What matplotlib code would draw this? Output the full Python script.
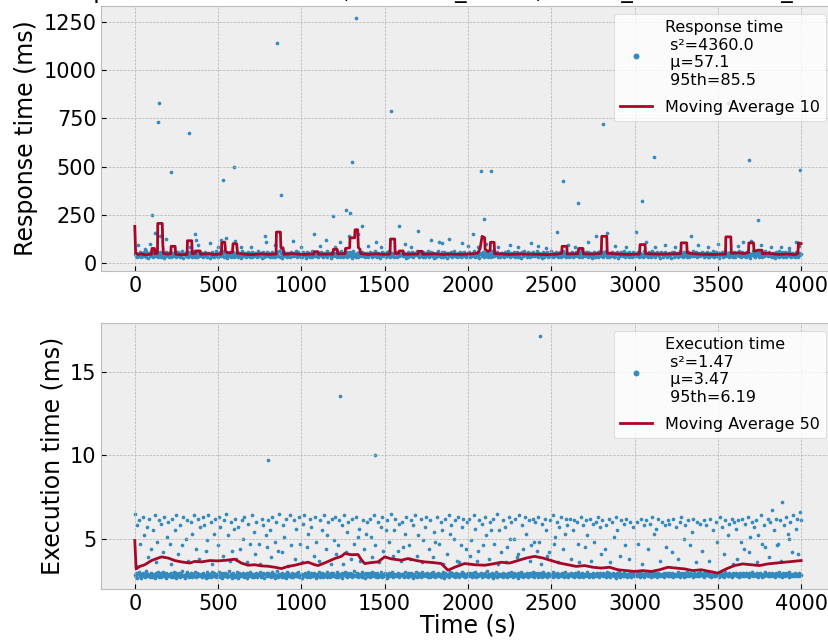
import numpy as np
import matplotlib
matplotlib.use("Agg")
from matplotlib import pyplot as plt

# response time, dense band of normal requests (ms), evenly spread over 0..4000 s
rt_band = [
    44,38,52,31,47,35,58,42,29,49,36,54,40,33,61,45,27,50,39,56,34,46,30,53,41,37,63,48,28,44,55,32,47,38,51,26,43,59,35,49,
    40,33,57,46,30,52,37,44,64,29,48,35,55,42,31,50,38,60,27,45,53,34,41,47,32,58,39,36,51,28,46,62,33,43,56,30,49,37,54,41,
    36,50,29,45,59,38,42,33,53,47,26,40,57,35,48,31,44,62,37,51,28,43,55,34,46,39,60,32,49,41,27,52,36,45,58,30,47,38,54,33,
    48,35,43,56,31,50,39,27,46,61,34,42,53,29,45,37,58,40,32,49,55,28,44,36,52,41,30,47,63,35,39,51,26,45,57,33,48,38,43,54,
    37,52,30,46,41,59,33,48,28,55,39,44,35,62,31,50,42,27,47,56,36,40,53,32,49,45,29,58,38,43,51,34,46,60,30,41,55,37,48,32,
    45,31,54,39,48,27,43,57,36,50,33,46,61,29,41,52,38,35,56,44,30,49,40,58,34,47,28,53,42,37,63,32,45,51,39,26,48,55,35,43,
    50,36,41,28,55,46,33,60,39,44,31,52,37,48,57,30,43,35,54,40,27,49,62,38,45,32,51,41,29,56,47,34,42,59,36,50,31,44,53,38,
    33,47,56,40,29,51,44,37,62,35,48,30,53,42,27,46,58,39,34,50,43,31,55,38,47,60,28,41,52,36,45,33,57,49,30,42,54,37,46,40,
    42,55,34,49,38,27,46,59,32,51,40,36,57,44,30,53,39,48,63,35,41,29,50,45,37,56,33,47,28,52,43,38,61,31,46,54,35,40,49,26,
    47,32,51,43,60,36,40,29,54,45,33,58,38,49,27,44,52,35,41,57,31,48,39,62,34,46,30,53,42,37,55,28,50,44,36,59,41,33,47,52,
    39,54,28,46,35,50,43,61,31,48,37,55,41,26,52,45,34,58,40,29,49,36,56,42,33,51,47,30,63,38,44,35,53,39,57,32,46,41,28,50,
    53,37,45,30,57,41,34,49,62,39,28,52,44,36,47,59,33,42,55,31,46,38,50,27,54,43,35,60,40,48,32,56,37,45,29,51,42,58,34,47,
    35,48,60,42,31,53,38,46,27,55,43,33,50,39,58,30,47,41,36,61,45,29,52,40,34,57,44,31,49,37,54,28,46,42,63,36,50,33,45,39,
    46,30,52,38,56,43,29,48,35,59,41,37,53,32,45,62,28,50,39,44,34,55,47,31,58,42,36,51,27,46,40,57,33,49,38,54,30,43,60,35,
    41,56,33,47,39,61,30,52,44,28,49,36,57,42,31,53,38,46,55,27,43,50,34,59,40,35,48,62,32,45,51,37,29,54,41,47,33,58,44,36,
    49,34,45,57,29,42,53,38,47,31,60,40,35,51,44,28,56,39,48,33,62,41,37,52,30,46,55,43,36,49,27,58,45,32,50,39,54,41,31,46,
    38,51,42,27,55,47,33,59,36,44,52,30,48,41,63,35,45,29,54,38,50,43,32,57,46,28,53,40,37,61,34,49,42,56,31,47,39,52,35,44,
    55,40,31,50,36,46,58,33,43,29,53,48,37,62,30,45,41,57,34,49,27,52,39,44,56,32,47,38,60,35,42,51,28,46,54,37,43,33,59,41,
    32,47,53,39,61,34,44,28,56,42,37,50,46,31,58,40,35,52,27,48,43,63,36,45,30,54,41,49,33,57,38,46,29,51,44,35,60,40,48,36,
    43,58,35,48,30,52,40,45,27,56,38,49,33,61,42,36,54,29,47,39,57,31,44,50,34,62,41,28,53,45,37,48,32,55,43,30,51,46,39,47,
]

# response time, slow requests and outliers (time s, ms)
rt_slow_t = [20, 60, 90, 102, 120, 142, 146, 150, 190, 220, 324, 330, 364, 370, 380, 450, 500, 520, 528, 545,
             594, 600, 640, 700, 780, 790, 840, 852, 878, 880, 950, 1000, 1075, 1110, 1150, 1192, 1200, 1230, 1266, 1285,
             1294, 1306, 1328, 1340, 1363, 1400, 1450, 1480, 1539, 1585, 1620, 1660, 1703, 1779, 1825, 1845, 1887, 1965, 2000, 2033,
             2060, 2079, 2095, 2110, 2141, 2180, 2250, 2300, 2380, 2420, 2470, 2537, 2571, 2600, 2640, 2663, 2720, 2769, 2811, 2833,
             2880, 2950, 3010, 3047, 3070, 3117, 3120, 3180, 3240, 3338, 3380, 3440, 3500, 3560, 3620, 3650, 3687, 3700, 3738, 3760,
             3820, 3880, 3930, 3970, 3990, 3995]
rt_slow_v = [95, 70, 100, 249, 155, 734, 828, 140, 125, 470, 676, 85, 152, 120, 95, 105, 80, 118, 430, 130,
             499, 115, 85, 80, 140, 110, 95, 1142, 352, 72, 115, 85, 152, 90, 120, 245, 80, 110, 275, 140,
             259, 523, 1270, 150, 192, 90, 110, 85, 788, 192, 100, 80, 166, 120, 110, 105, 124, 105, 90, 152,
             85, 475, 230, 100, 475, 80, 95, 85, 105, 90, 75, 162, 425, 95, 85, 309, 110, 140, 721, 155,
             90, 80, 160, 323, 110, 551, 85, 95, 80, 138, 95, 80, 100, 828, 90, 110, 536, 115, 221, 95,
             85, 80, 75, 110, 90, 480]

# moving average (window 10) of response time
rt_ma_t = [0, 5, 20, 40, 60, 100, 103, 118, 121, 136, 138, 165, 168, 172, 190, 216, 218, 242, 245, 280,
           314, 316, 342, 345, 364, 366, 392, 395, 450, 470, 520, 522, 540, 545, 560, 586, 590, 612, 616, 660,
           700, 760, 800, 848, 850, 874, 877, 890, 895, 950, 1000, 1075, 1078, 1100, 1103, 1190, 1192, 1215, 1218, 1262,
           1265, 1290, 1292, 1320, 1322, 1338, 1342, 1352, 1356, 1400, 1450, 1500, 1532, 1535, 1560, 1563, 1585, 1588, 1610, 1613,
           1700, 1703, 1725, 1728, 1800, 1850, 1900, 1960, 2000, 2040, 2060, 2073, 2085, 2100, 2103, 2120, 2133, 2135, 2157, 2160,
           2250, 2300, 2400, 2480, 2540, 2563, 2565, 2593, 2596, 2660, 2665, 2690, 2693, 2760, 2800, 2803, 2833, 2836, 2900, 2960,
           3030, 3033, 3063, 3066, 3150, 3200, 3278, 3280, 3313, 3316, 3350, 3400, 3480, 3546, 3548, 3578, 3581, 3620, 3660, 3684,
           3686, 3714, 3717, 3740, 3765, 3768, 3800, 3860, 3920, 3960, 3980, 3984, 4000]
rt_ma_v = [190, 52, 44, 47, 42, 45, 75, 75, 48, 50, 205, 205, 100, 50, 46, 47, 86, 86, 45, 42,
           44, 115, 115, 48, 50, 62, 62, 45, 48, 44, 46, 105, 108, 60, 52, 55, 100, 98, 50, 45,
           43, 47, 44, 46, 160, 160, 80, 78, 45, 48, 44, 46, 58, 58, 45, 46, 70, 70, 47, 48,
           75, 78, 130, 130, 172, 172, 80, 70, 48, 44, 47, 44, 46, 124, 124, 48, 50, 62, 62, 45,
           46, 60, 60, 45, 47, 44, 46, 44, 46, 48, 52, 75, 138, 130, 70, 60, 65, 107, 107, 48,
           44, 46, 45, 43, 46, 50, 86, 86, 46, 48, 75, 75, 47, 46, 50, 138, 138, 50, 46, 44,
           46, 95, 95, 48, 45, 46, 48, 104, 104, 52, 48, 45, 44, 46, 135, 135, 50, 52, 48, 55,
           104, 104, 60, 66, 66, 48, 50, 44, 46, 43, 48, 104, 100]

# execution time, dense band (hundredths of ms), evenly spread over 0..4000 s
ex_band = [
    281,273,294,268,287,301,276,290,265,284,297,279,271,288,305,275,292,283,269,298,286,274,291,280,267,295,278,289,303,272,285,293,270,282,299,277,288,266,294,284,
    276,291,283,298,270,287,274,302,281,268,293,285,277,296,272,289,280,306,275,286,264,292,279,299,284,271,290,282,297,273,287,278,301,269,293,283,275,290,286,279,
    289,270,296,278,285,263,299,281,274,292,287,269,304,280,276,295,283,271,290,286,278,300,273,288,266,294,282,277,297,285,272,289,280,307,275,291,284,268,296,279,
    272,286,280,301,267,293,278,289,283,275,298,270,287,281,294,265,290,277,303,285,273,292,288,269,282,296,279,274,291,286,300,271,284,278,295,268,289,283,276,297,
    294,279,287,271,299,283,276,290,268,286,281,305,274,292,278,288,270,296,284,273,289,265,301,280,293,277,285,272,298,282,269,291,287,275,294,279,302,270,286,283,
    267,292,284,276,296,280,289,273,301,285,270,294,279,288,275,298,283,266,290,286,278,303,272,287,281,295,269,291,277,284,299,274,289,282,270,296,285,278,293,280,
    285,274,299,282,270,291,286,277,295,268,289,281,302,276,293,272,287,280,297,284,271,290,278,306,283,275,294,288,269,292,279,286,273,300,281,287,265,295,283,277,
    278,296,271,289,284,300,276,293,281,269,288,295,274,286,279,304,272,291,285,277,297,283,268,290,280,294,275,287,282,299,270,289,284,276,292,281,296,273,288,285,
    292,280,287,274,302,279,285,270,297,288,276,293,283,268,290,286,279,299,273,295,282,277,289,271,304,284,275,291,287,280,296,269,288,283,274,293,281,300,277,286,
    270,289,282,297,276,285,291,273,288,280,299,267,294,284,278,290,286,272,301,281,293,276,287,283,270,296,279,292,285,274,289,281,303,277,295,284,271,288,280,298,
    287,276,293,281,269,295,284,278,300,272,289,285,276,292,281,297,270,288,283,275,294,279,305,286,273,290,282,277,296,268,291,285,279,299,274,287,283,292,276,289,
    279,298,274,287,292,280,270,296,283,289,275,301,281,286,272,293,285,278,290,267,295,284,277,299,282,288,273,291,286,280,297,271,289,276,294,283,279,302,285,274,
    295,282,288,271,297,286,279,293,274,300,283,276,290,285,269,296,281,287,277,292,284,272,299,280,289,275,294,283,270,291,286,278,297,282,288,273,301,279,285,290,
    273,290,281,296,278,288,284,270,294,282,276,299,287,273,291,280,297,285,271,289,283,277,304,281,292,274,288,286,279,295,270,284,290,276,298,283,287,272,293,281,
    284,277,295,283,289,272,301,279,286,293,274,288,281,297,276,290,285,268,294,282,279,299,273,287,291,280,276,296,283,289,271,292,285,278,300,274,288,282,295,279,
    290,283,276,299,281,287,274,294,285,279,292,270,297,283,288,276,301,281,286,273,295,280,289,277,293,284,271,298,282,287,276,291,285,279,296,272,289,283,294,278,
    276,294,287,280,298,273,289,283,291,276,285,302,279,288,274,296,282,290,270,293,286,278,299,281,287,275,294,283,289,272,297,280,286,291,277,295,284,279,300,282,
    288,279,293,274,286,297,281,290,276,294,283,271,299,285,280,292,277,289,284,296,273,287,281,295,278,290,286,272,301,283,288,276,294,280,291,285,274,298,282,287,
    281,295,277,289,284,272,298,286,280,293,275,290,283,297,279,288,271,294,285,282,300,276,289,283,292,278,296,274,287,281,295,284,270,291,286,279,299,283,288,276,
    293,280,288,276,297,284,279,291,273,295,286,282,300,277,289,285,274,294,281,290,278,296,283,287,272,299,284,280,292,276,289,285,297,279,288,282,294,277,290,284,
]

# execution time, slower runs: one slot per 8 s, value in tenths of ms, 0 = no request
ex_hi = [
    65,34,58,61,47,0,63,52,0,57,39,62,44,0,55,64,36,48,61,0,59,42,63,0,51,
    60,47,35,62,0,55,64,41,0,58,46,63,0,50,61,37,0,60,53,64,0,44,62,38,57,
    0,63,58,43,49,64,0,60,35,53,62,0,46,63,57,0,40,61,65,0,52,37,60,43,56,
    62,38,57,0,44,61,50,63,0,36,59,47,0,64,54,41,60,0,47,35,62,58,0,52,45,
    61,55,39,63,0,48,60,43,65,0,42,58,51,62,0,34,64,46,0,61,38,56,0,63,47,
    36,59,64,0,45,53,62,57,0,40,63,48,0,37,61,55,0,64,44,52,60,0,35,62,49,
    63,41,46,61,0,58,35,64,42,54,60,0,38,62,47,0,63,51,56,37,0,61,44,53,60,
    0,62,51,39,64,46,0,60,36,57,63,43,0,55,61,48,0,65,40,55,62,0,43,59,37,
    60,45,53,63,0,46,38,61,58,0,64,40,52,0,62,36,49,57,63,0,44,61,0,39,54,
    48,63,0,47,60,55,35,62,0,41,64,53,58,0,50,61,37,63,36,46,57,62,0,44,60,
    62,40,49,0,64,56,37,43,61,0,59,46,63,52,0,38,60,55,62,47,0,65,35,55,42,
    0,61,57,36,45,63,50,60,0,50,62,39,41,64,0,58,44,63,53,0,61,37,46,62,48,
    60,43,63,48,35,59,0,62,55,40,42,61,0,64,47,51,60,36,57,63,0,44,53,62,58,
    0,62,38,55,61,0,60,47,36,63,0,58,45,61,52,0,62,37,59,48,60,0,63,57,41,
    61,0,44,58,0,62,36,60,0,51,63,55,0,40,61,0,59,46,62,0,38,60,0,57,0,
    0,60,47,0,62,35,58,0,61,44,0,59,63,0,53,56,0,62,37,0,60,0,58,45,61,
    59,0,42,62,0,57,0,38,60,63,0,50,58,0,61,0,46,54,62,0,36,60,0,59,0,
    43,61,0,58,0,37,62,0,55,0,60,48,0,63,0,57,41,61,0,52,59,0,62,35,60,
    56,38,61,0,48,62,44,59,0,63,42,51,60,0,57,61,36,52,0,64,47,58,45,0,62,
    39,60,67,0,55,62,46,47,61,37,72,58,0,63,53,50,60,42,64,0,56,62,41,66,61,
]

# execution time outliers (time s, ms)
ex_out_t = [800, 1233, 1444, 2433]
ex_out_v = [9.74, 13.55, 9.98, 17.15]

# moving average (window 50) of execution time
ex_ma_t = [0, 8, 30, 60, 100, 160, 200, 240, 280, 330, 360, 400, 450, 500, 550, 600, 640, 680, 720, 760,
           800, 840, 880, 920, 960, 1000, 1040, 1080, 1100, 1150, 1200, 1240, 1260, 1300, 1340, 1360, 1380, 1420, 1460, 1500,
           1540, 1600, 1640, 1690, 1740, 1790, 1840, 1880, 1920, 1980, 2040, 2100, 2150, 2200, 2250, 2300, 2350, 2400, 2450, 2500,
           2550, 2600, 2650, 2700, 2750, 2800, 2850, 2900, 2950, 3000, 3050, 3100, 3150, 3200, 3250, 3300, 3350, 3400, 3450, 3500,
           3550, 3600, 3650, 3700, 3750, 3800, 3850, 3900, 3950, 4000]
ex_ma_v = [4.9, 3.2, 3.35, 3.45, 3.7, 3.92, 3.85, 3.7, 3.62, 3.55, 3.65, 3.62, 3.7, 3.68, 3.72, 3.78, 3.55, 3.42, 3.45, 3.38,
           3.36, 3.3, 3.22, 3.35, 3.42, 3.52, 3.6, 3.45, 3.4, 3.6, 3.82, 3.95, 4.12, 4.05, 4.06, 3.75, 3.52, 3.58, 3.62, 3.92,
           3.8, 3.72, 3.82, 3.7, 3.62, 3.58, 3.52, 3.12, 3.3, 3.52, 3.45, 3.42, 3.5, 3.6, 3.55, 3.7, 3.85, 3.95, 3.85, 3.7,
           3.55, 3.45, 3.35, 3.4, 3.3, 3.25, 3.3, 3.15, 3.1, 3.05, 3.1, 3.05, 3.15, 3.3, 3.25, 3.2, 3.1, 3.15, 3.05, 2.95,
           3.2, 3.4, 3.5, 3.45, 3.4, 3.5, 3.55, 3.6, 3.65, 3.7]

rt_label = "Response time\n s\u00b2=4360.0\n \u03bc=57.1\n 95th=85.5"
ex_label = "Execution time\n s\u00b2=1.47\n \u03bc=3.47\n 95th=6.19"
title = "Simple service on 8 cores, backend_id=12, model_name=mnist_small"

plt.style.use("bmh")
blue = "#348ABD"
red = "#A60628"

fig = plt.figure(figsize=(8.29, 6.4), dpi=100)
ax1 = fig.add_axes([0.1224, 0.5766, 0.8842, 0.4141])
ax2 = fig.add_axes([0.1224, 0.0797, 0.8842, 0.4156])

band_t = np.linspace(0, 4000, len(rt_band))
ax1.scatter(band_t, rt_band, s=7, color=blue, linewidths=0, label=rt_label)
ax1.scatter(rt_slow_t, rt_slow_v, s=7, color=blue, linewidths=0)
ax1.plot(rt_ma_t, rt_ma_v, color=red, lw=2.0, label="Moving Average 10")

ex_band_t = np.linspace(0, 4000, len(ex_band))
ax2.scatter(ex_band_t, np.array(ex_band) / 100, s=7, color=blue, linewidths=0, label=ex_label)
hi = np.array(ex_hi, dtype=float)
hi_t = np.linspace(0, 4000, len(hi))
keep = hi > 0
ax2.scatter(hi_t[keep], hi[keep] / 10, s=7, color=blue, linewidths=0)
ax2.scatter(ex_out_t, ex_out_v, s=7, color=blue, linewidths=0)
ax2.plot(ex_ma_t, ex_ma_v, color=red, lw=2.0, label="Moving Average 50")

for ax in (ax1, ax2):
    ax.set_xlim(-200, 4200)
    ax.set_xticks(range(0, 4001, 500))
    ax.tick_params(labelsize=15)
    ax.legend(loc="upper right", fontsize=11.5, markerscale=1.6, labelspacing=0.75,
              facecolor="white", framealpha=0.8)

ax1.set_ylim(-42, 1334)
ax1.set_yticks(range(0, 1251, 250))
ax2.set_ylim(2.0, 17.9)
ax2.set_yticks([5, 10, 15])

ax1.set_ylabel("Response time (ms)", fontsize=17)
ax2.set_ylabel("Execution time (ms)", fontsize=17)
ax2.set_xlabel("Time (s)", fontsize=17, labelpad=0)

fig.text(0.060, 1 + 2 / 640, title, fontsize=16.5, va="baseline")

fig.savefig("out.png", dpi=100)
